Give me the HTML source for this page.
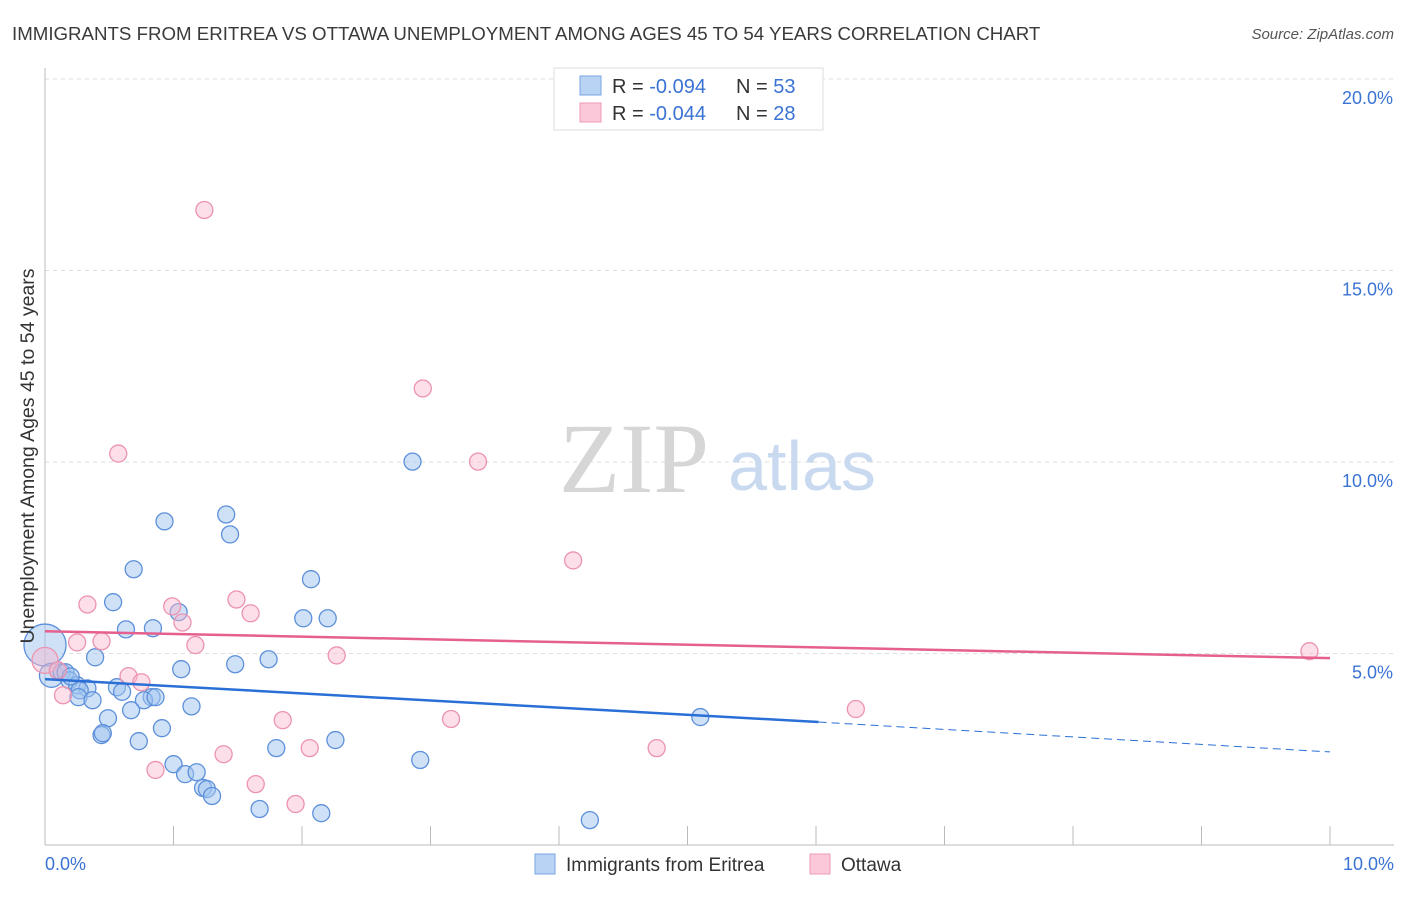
<!DOCTYPE html>
<html><head><meta charset="utf-8"><style>
body{margin:0;background:#fff;font-family:"Liberation Sans",sans-serif;}
</style></head><body>
<svg id="chart" width="1406" height="892" font-family="Liberation Sans, sans-serif">
<text x="12" y="40" font-size="18.7" fill="#3a3a3a">IMMIGRANTS FROM ERITREA VS OTTAWA UNEMPLOYMENT AMONG AGES 45 TO 54 YEARS CORRELATION CHART</text>
<text x="1394" y="39" font-size="15" fill="#555" text-anchor="end" font-style="italic">Source: ZipAtlas.com</text>
<g id="grid"></g>
<text x="634" y="492" font-size="100" fill="#d6d6d6" style="font-family:'Liberation Serif',serif" text-anchor="middle">ZIP</text>
<text x="802" y="490" font-size="70" fill="#c9daf0" text-anchor="middle">atlas</text>
<g id="pts"></g>
<g id="trend"></g>
<text transform="translate(34,456) rotate(-90)" font-size="19.5" fill="#333" text-anchor="middle">Unemployment Among Ages 45 to 54 years</text>
<g>
<rect x="554" y="68" width="269" height="62" fill="#fff" stroke="#ddd"/>
<rect x="580" y="76" width="21" height="19" fill="#b9d3f5" stroke="#7aa6e3"/>
<rect x="580" y="103" width="21" height="19" fill="#fac8d8" stroke="#ef9ab6"/>
<text x="612" y="93" font-size="20" fill="#333">R = <tspan fill="#3b73d4">-0.094</tspan></text>
<text x="736" y="93" font-size="20" fill="#333">N = <tspan fill="#3b73d4">53</tspan></text>
<text x="612" y="120" font-size="20" fill="#333">R = <tspan fill="#3b73d4">-0.044</tspan></text>
<text x="736" y="120" font-size="20" fill="#333">N = <tspan fill="#3b73d4">28</tspan></text>
</g>
<g>
<rect x="535" y="854" width="20" height="20" fill="#b9d3f5" stroke="#7aa6e3"/>
<text x="566" y="871" font-size="19" fill="#333">Immigrants from Eritrea</text>
<rect x="810" y="854" width="20" height="20" fill="#fac8d8" stroke="#ef9ab6"/>
<text x="841" y="871" font-size="19" fill="#333">Ottawa</text>
</g>
</svg>
<script>
const blueX=[0,0.05,0.10,0.13,0.16,0.19,0.25,0.33,0.27,0.26,0.37,0.39,0.53,0.63,0.84,0.69,0.93,1.41,1.44,1.04,1.06,0.83,0.77,0.67,0.49,0.44,0.45,0.73,0.91,1.14,0.56,1.48,1.74,2.01,2.20,2.07,2.86,1.80,2.26,2.92,1.00,1.09,1.18,1.23,1.26,1.30,1.67,2.15,4.24,5.10,0.86,0.60,0.20];
const blueY=[5.22,4.43,4.56,4.51,4.51,4.30,4.17,4.09,4.04,3.86,3.78,4.90,6.34,5.63,5.66,7.20,8.45,8.63,8.11,6.08,4.59,3.86,3.78,3.52,3.31,2.87,2.92,2.71,3.05,3.62,4.12,4.72,4.85,5.92,5.92,6.94,10.01,2.53,2.74,2.22,2.11,1.85,1.90,1.49,1.46,1.28,0.94,0.83,0.65,3.34,3.86,4.0,4.4];
const pinkX=[0,0.33,0.25,0.44,0.14,0.10,0.65,0.75,0.99,1.07,1.17,1.49,1.60,0.57,1.24,2.94,3.37,4.11,2.27,1.85,2.06,1.39,0.86,1.64,1.95,3.16,4.76,6.31,9.84];
const pinkY=[4.82,6.28,5.29,5.32,3.91,4.56,4.41,4.25,6.23,5.81,5.22,6.41,6.05,10.22,16.58,11.92,10.01,7.43,4.95,3.26,2.53,2.37,1.96,1.59,1.07,3.29,2.53,3.55,5.06];
const blueTrend=[4.33,3.21,2.43]; const blueTrendX=[0,6.02,10];
const pinkTrend=[5.58,4.88]; const pinkTrendX=[0,10];
const yTicks=[5,10,15,20]; const yTickLabels=["5.0%","10.0%","15.0%","20.0%"];
const xTicks=[0,1,2,3,4,5,6,7,8,9,10]; const xLabels=["0.0%","10.0%"];
const NS="http://www.w3.org/2000/svg";
const sx=v=>45+v*128.5, sy=v=>845-v*38.3;
function mk(p,t,a){const e=document.createElementNS(NS,t);for(const k in a)e.setAttribute(k,a[k]);p.appendChild(e);return e;}
const g=document.getElementById('grid');
let e=mk(g,'line',{x1:45,x2:1394,y1:79,y2:79,stroke:'#ddd','stroke-dasharray':'4,4'});


yTicks.forEach((v,i)=>{
 let l=mk(g,'line',{x1:45,x2:1394,y1:sy(v),y2:sy(v),stroke:'#ddd','stroke-dasharray':'4,4'});
 
 
 let t=mk(g,'text',{x:1393,y:sy(v)+25,'font-size':18,fill:'#3b73d4','text-anchor':'end'});t.textContent=yTickLabels[i];
 
 
});
e=mk(g,'line',{x1:45,x2:45,y1:68,y2:845,stroke:'#bbb'});


e=mk(g,'line',{x1:45,x2:1394,y1:845,y2:845,stroke:'#bbb'});


xTicks.forEach(v=>{let l=mk(g,'line',{x1:sx(v),x2:sx(v),y1:826,y2:845,stroke:'#bbb'});
 
 });
[[0,'start',45],[10,'end',1394]].forEach(([v,a,x],i)=>{let t=mk(g,'text',{x:x,y:870,'font-size':18,fill:'#3b73d4','text-anchor':a});t.textContent=xLabels[i];
 
 });
const pg=document.getElementById('pts');
blueX.forEach((x,i)=>{let r=i==0?21:(i==1?12:8.5);let c=mk(pg,'circle',{cx:sx(x),cy:sy(blueY[i]),r:r,fill:'rgba(160,195,240,0.5)',stroke:'#5d90da','stroke-width':1.3});
 
 });
pinkX.forEach((x,i)=>{let r=i==0?13:8.5;let c=mk(pg,'circle',{cx:sx(x),cy:sy(pinkY[i]),r:r,fill:'rgba(248,185,205,0.45)',stroke:'#ec93b0','stroke-width':1.3});
 
 });
const tg=document.getElementById('trend');
e=mk(tg,'line',{x1:sx(blueTrendX[0]),y1:sy(blueTrend[0]),x2:sx(blueTrendX[1]),y2:sy(blueTrend[1]),stroke:'#2a6fd6','stroke-width':2.5});


e=mk(tg,'line',{x1:sx(blueTrendX[1]),y1:sy(blueTrend[1]),x2:sx(blueTrendX[2]),y2:sy(blueTrend[2]),stroke:'#2a6fd6','stroke-width':1,'stroke-dasharray':'8,5'});


e=mk(tg,'line',{x1:sx(pinkTrendX[0]),y1:sy(pinkTrend[0]),x2:sx(pinkTrendX[1]),y2:sy(pinkTrend[1]),stroke:'#e5608e','stroke-width':2.5});


</script>
</body></html>
